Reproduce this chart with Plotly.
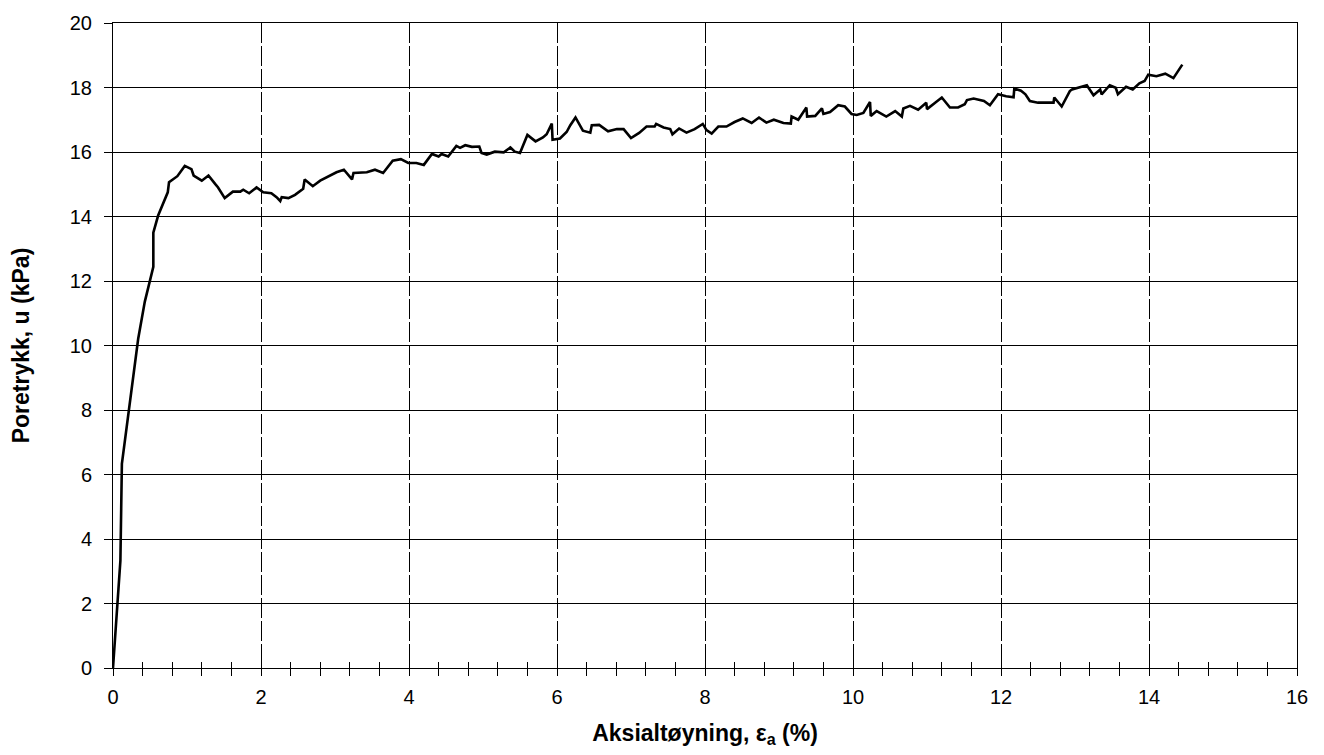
import plotly.graph_objects as go

# Axial strain (%) and pore pressure (kPa)
strain = [
    0.0, 0.10, 0.12, 0.21, 0.34, 0.43, 0.545, 0.545, 0.61, 0.74, 0.757, 0.87, 0.97, 1.06, 1.09,
    1.20, 1.29, 1.38, 1.42, 1.51, 1.62, 1.72, 1.76, 1.84, 1.94, 2.03, 2.14, 2.21, 2.26, 2.28,
    2.37, 2.46, 2.57, 2.59, 2.70, 2.80, 2.91, 3.02, 3.12, 3.17, 3.23, 3.25, 3.43, 3.54, 3.65,
    3.78, 3.89, 3.99, 4.10, 4.20, 4.31, 4.40, 4.44, 4.53, 4.64, 4.69, 4.76, 4.85, 4.95, 4.98,
    5.05, 5.16, 5.28, 5.37, 5.43, 5.50, 5.60, 5.71, 5.81, 5.86, 5.93, 5.94, 6.04, 6.13, 6.18,
    6.25, 6.35, 6.45, 6.47, 6.57, 6.69, 6.81, 6.90, 7.00, 7.11, 7.21, 7.32, 7.34, 7.44, 7.53,
    7.56, 7.65, 7.75, 7.86, 7.97, 8.02, 8.09, 8.18, 8.29, 8.40, 8.51, 8.63, 8.73, 8.83, 8.93,
    9.06, 9.16, 9.17, 9.26, 9.37, 9.38, 9.49, 9.58, 9.60, 9.69, 9.80, 9.89, 9.98, 10.05, 10.14,
    10.23, 10.24, 10.32, 10.45, 10.57, 10.66, 10.68, 10.77, 10.88, 10.99, 11.00, 11.11, 11.20,
    11.31, 11.42, 11.51, 11.54, 11.63, 11.77, 11.85, 11.96, 12.07, 12.17, 12.18, 12.27, 12.33,
    12.39, 12.50, 12.71, 12.72, 12.82, 12.93, 12.96, 13.16, 13.25, 13.34, 13.36, 13.47, 13.55,
    13.58, 13.69, 13.78, 13.87, 13.94, 13.99, 14.10, 14.22, 14.33, 14.45,
]
pore_pressure = [
    0.0, 3.33, 6.33, 7.96, 10.2, 11.36, 12.44, 13.5, 14.03, 14.75, 15.06, 15.25, 15.57, 15.47, 15.27,
    15.11, 15.27, 15.01, 14.9, 14.57, 14.77, 14.77, 14.83, 14.72, 14.9, 14.75, 14.72, 14.6, 14.48, 14.6,
    14.57, 14.67, 14.86, 15.15, 14.94, 15.11, 15.23, 15.37, 15.45, 15.32, 15.15, 15.35, 15.37, 15.45, 15.35,
    15.73, 15.78, 15.66, 15.66, 15.6, 15.94, 15.86, 15.94, 15.86, 16.19, 16.13, 16.21, 16.16, 16.17, 15.97,
    15.92, 16.01, 15.99, 16.14, 16.01, 15.97, 16.53, 16.33, 16.45, 16.55, 16.88, 16.38, 16.42, 16.62, 16.83,
    17.07, 16.66, 16.6, 16.83, 16.84, 16.64, 16.71, 16.71, 16.43, 16.59, 16.79, 16.79, 16.87, 16.76, 16.71,
    16.55, 16.73, 16.6, 16.71, 16.87, 16.68, 16.57, 16.79, 16.79, 16.93, 17.04, 16.9, 17.07, 16.91, 17.0,
    16.9, 16.88, 17.1, 17.0, 17.38, 17.1, 17.12, 17.35, 17.18, 17.24, 17.45, 17.41, 17.18, 17.15, 17.21,
    17.55, 17.12, 17.27, 17.1, 17.27, 17.1, 17.35, 17.43, 17.31, 17.53, 17.33, 17.53, 17.69,
    17.38, 17.38, 17.48, 17.61, 17.66, 17.58, 17.45, 17.79, 17.73, 17.7, 17.97, 17.9, 17.79,
    17.58, 17.53, 17.53, 17.69, 17.41, 17.89, 17.94, 18.07, 17.76, 17.94, 17.79, 18.07, 17.99,
    17.79, 18.02, 17.94, 18.13, 18.2, 18.4, 18.35, 18.43, 18.29, 18.71,
]

x_ticks = [0, 2, 4, 6, 8, 10, 12, 14, 16]
y_ticks = [0, 2, 4, 6, 8, 10, 12, 14, 16, 18, 20]

font_family = "Liberation Sans, Arial, sans-serif"

fig = go.Figure()
fig.add_trace(go.Scatter(
    x=strain, y=pore_pressure, mode="lines",
    line=dict(color="black", width=2.6),
    showlegend=False, hoverinfo="skip",
))
# invisible trace on overlay axis to carry inside ticks
fig.add_trace(go.Scatter(x=[0], y=[0], xaxis="x2", mode="markers",
                         marker=dict(opacity=0), showlegend=False, hoverinfo="skip"))

fig.update_layout(
    width=1324, height=755,
    margin=dict(l=113, r=27, t=20, b=87),
    paper_bgcolor="white", plot_bgcolor="white",
    font=dict(family=font_family, size=20, color="black"),
    xaxis=dict(
        range=[0, 16], tickvals=x_ticks, ticktext=[str(v) for v in x_ticks],
        showline=True, linecolor="black", linewidth=1, mirror=True,
        ticks="outside", ticklen=7, tickcolor="black", tickwidth=1,
        ticklabelstandoff=4,
        showgrid=True, gridcolor="black", gridwidth=1, griddash="20px,3px",
        zeroline=False,
        minor=dict(dtick=0.4, ticks="outside", ticklen=7, tickcolor="black", tickwidth=1, showgrid=False),
        title=dict(text="<b>Aksialtøyning, ε<sub>a</sub> (%)</b>", font=dict(size=23), standoff=17),
        tickfont=dict(size=20),
    ),
    xaxis2=dict(
        range=[0, 16], overlaying="x", side="bottom", anchor="y",
        tickvals=x_ticks, showticklabels=False,
        ticks="inside", ticklen=6, tickcolor="black", tickwidth=1,
        showgrid=False, zeroline=False, showline=False,
        minor=dict(dtick=0.4, ticks="inside", ticklen=6, tickcolor="black", tickwidth=1, showgrid=False),
    ),
    yaxis=dict(
        range=[0, 20], tickvals=y_ticks, ticktext=[str(v) for v in y_ticks],
        showline=True, linecolor="black", linewidth=1, mirror=True,
        ticks="outside", ticklen=8, tickcolor="black", tickwidth=1,
        ticklabelstandoff=8,
        showgrid=True, gridcolor="black", gridwidth=1,
        zeroline=False,
        title=dict(text="<b>Poretrykk, u (kPa)</b>", font=dict(size=23), standoff=33),
        tickfont=dict(size=20),
    ),
)

fig.write_html("out.html")
